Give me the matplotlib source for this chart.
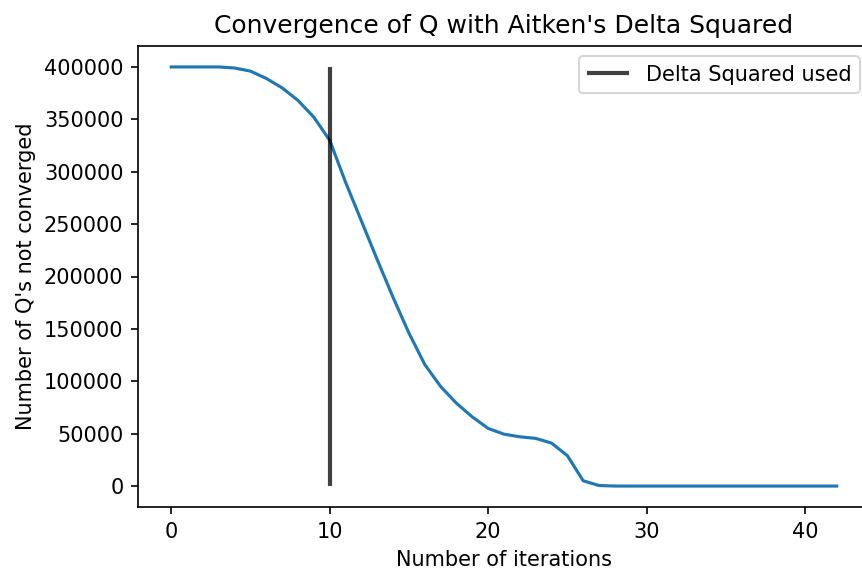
import matplotlib
matplotlib.use("Agg")
import matplotlib.pyplot as plt

# iterations and number of Q's not yet converged
iterations = list(range(43))
not_converged = [400000, 400000, 400000, 400000, 399000, 396000, 389000, 380000,
                 368000, 352000, 330000, 290000, 253000, 216000, 180000, 146000,
                 116000, 95000, 79000, 66000, 55000, 49500, 47000, 45500, 41000,
                 29000, 5000, 500, 0, 0, 0, 0, 0, 0, 0, 0, 0, 0, 0, 0, 0, 0, 0]
delta_iter = 10
delta_top = 400000

fig = plt.figure(figsize=(862/150, 570/150), dpi=150)
ax = fig.add_axes([138/862, 1 - 507/570, (870 - 138)/862, (507 - 46)/570])

ax.plot(iterations, not_converged)
ax.vlines(delta_iter, 0, delta_top, color="black", alpha=0.75, lw=2,
          label="Delta Squared used")

ax.set_title("Convergence of Q with Aitken's Delta Squared")
ax.set_xlabel("Number of iterations")
ax.set_ylabel("Number of Q's not converged")
ax.legend(loc="upper right")

plt.savefig("out.png", dpi=150)
